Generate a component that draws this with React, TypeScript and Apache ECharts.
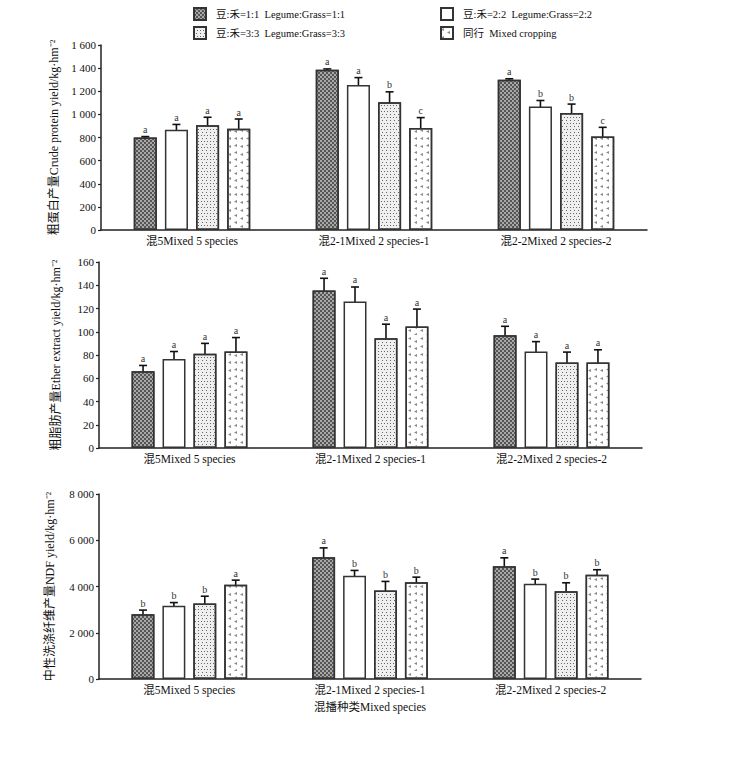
import React, { useEffect, useRef } from "react";
import * as echarts from "echarts";

const categories = ["混5Mixed 5 species", "混2-1Mixed 2 species-1", "混2-2Mixed 2 species-2"];
const seriesNames = [
  "豆:禾=1:1  Legume:Grass=1:1",
  "豆:禾=2:2  Legume:Grass=2:2",
  "豆:禾=3:3  Legume:Grass=3:3",
  "同行  Mixed cropping",
];

// Crude protein yield
const cpValues = [
  [800, 1385, 1300],
  [868, 1255, 1068],
  [905, 1105, 1012],
  [875, 882, 808],
];
const cpErrors = [
  [8, 8, 8],
  [45, 63, 52],
  [70, 90, 77],
  [85, 90, 80],
];
const cpLetters = [
  ["a", "a", "a"],
  ["a", "a", "b"],
  ["a", "b", "b"],
  ["a", "c", "c"],
];

// Ether extract yield
const eeValues = [
  [66, 135.5, 97],
  [76.5, 126, 83],
  [81, 94.5, 73.5],
  [83, 104.5, 73.5],
];
const eeErrors = [
  [5, 10.5, 7.7],
  [6.5, 12.5, 8.5],
  [9, 12, 9],
  [12, 15, 11],
];
const eeLetters = [
  ["a", "a", "a"],
  ["a", "a", "a"],
  ["a", "a", "a"],
  ["a", "a", "a"],
];

// NDF yield
const ndfValues = [
  [2800, 5270, 4880],
  [3170, 4470, 4120],
  [3270, 3830, 3790],
  [4080, 4180, 4510],
];
const ndfErrors = [
  [180, 400, 360],
  [135, 225, 200],
  [310, 390, 370],
  [195, 225, 215],
];
const ndfLetters = [
  ["b", "a", "a"],
  ["b", "b", "b"],
  ["b", "b", "b"],
  ["a", "b", "b"],
];

const yNames = [
  "粗蛋白产量Crude protein yield/kg·hm⁻²",
  "粗脂肪产量Ether extract yield/kg·hm⁻²",
  "中性洗涤纤维产量NDF yield/kg·hm⁻²",
];
const yMax = [1600, 160, 8000];
const yInterval = [200, 20, 2000];
const xAxisTitle = "混播种类Mixed species";

const FONT = "'Liberation Serif', 'Times New Roman', 'Noto Sans CJK SC', serif";
const CAT_GAP = 0.36;
const BAR_GAP = 0.35;

const barStyles: any[] = [
  {
    color: "#a8a8a8",
    borderColor: "#333",
    borderWidth: 1.5,
    decal: {
      symbol: "rect",
      symbolSize: 1,
      color: "#555",
      dashArrayX: [[1.5, 1.5], [0, 1.5, 1.5, 0]],
      dashArrayY: [1.5, 0],
    },
  },
  { color: "#ffffff", borderColor: "#333", borderWidth: 1.5 },
  {
    color: "#efefef",
    borderColor: "#333",
    borderWidth: 1.5,
    decal: {
      symbol: "rect",
      symbolSize: 1,
      color: "#666",
      dashArrayX: [[1, 2], [0, 1.5, 1, 0.5]],
      dashArrayY: [1, 1.5],
    },
  },
  {
    color: "#ffffff",
    borderColor: "#333",
    borderWidth: 1.5,
    decal: {
      symbol: "triangle",
      symbolSize: 1,
      color: "#8a8a8a",
      dashArrayX: [[3, 4], [0, 3.5, 3, 0.5]],
      dashArrayY: [3, 3],
      rotation: -Math.PI / 2,
    },
  },
];

const fmt = (v: number) => String(v).replace(/\B(?=(\d{3})+(?!\d))/g, " ");

export default function App() {
  const ref = useRef<HTMLDivElement>(null);
  useEffect(() => {
    if (!ref.current) return;
    const chart = echarts.init(ref.current, null, { renderer: "svg" });
    const grids = [
      { left: 101, right: 90, top: 45, height: 185 },
      { left: 99, right: 95, top: 262, height: 186 },
      { left: 99, right: 96, top: 494, height: 185 },
    ];
    const nameGaps = [40, 37, 43];
    const panels = [
      { values: cpValues, errors: cpErrors, letters: cpLetters },
      { values: eeValues, errors: eeErrors, letters: eeLetters },
      { values: ndfValues, errors: ndfErrors, letters: ndfLetters },
    ];
    const series: any[] = [];
    panels.forEach((p, gi) => {
      p.values.forEach((vals, si) => {
        series.push({
          type: "bar",
          name: seriesNames[si],
          xAxisIndex: gi,
          yAxisIndex: gi,
          data: vals,
          barGap: BAR_GAP * 100 + "%",
          barCategoryGap: CAT_GAP * 100 + "%",
          itemStyle: barStyles[si],
        });
      });
      const errData: any[] = [];
      const letterList: string[] = [];
      p.values.forEach((vals, si) => {
        vals.forEach((v, ci) => {
          errData.push([ci, si, v, p.errors[si][ci]]);
          letterList.push(p.letters[si][ci]);
        });
      });
      series.push({
        type: "custom",
        xAxisIndex: gi,
        yAxisIndex: gi,
        encode: { x: 0, y: 2 },
        clip: false,
        silent: true,
        data: errData,
        renderItem: (params: any, api: any) => {
          const ci = api.value(0);
          const si = api.value(1);
          const v = api.value(2);
          const e = api.value(3);
          const band = api.size([1, 0])[0];
          const barW = (band * (1 - CAT_GAP)) / (4 + 3 * BAR_GAP);
          const groupW = 4 * barW + 3 * barW * BAR_GAP;
          const center = api.coord([ci, 0])[0];
          const x = center - groupW / 2 + si * barW * (1 + BAR_GAP) + barW / 2;
          const yTop = api.coord([ci, v + e])[1];
          const yBot = api.coord([ci, v - e])[1];
          const cap = 4;
          const ls = { stroke: "#111", lineWidth: 1.6 };
          return {
            type: "group",
            children: [
              { type: "line", shape: { x1: x, y1: yTop, x2: x, y2: yBot }, style: ls },
              { type: "line", shape: { x1: x - cap, y1: yTop, x2: x + cap, y2: yTop }, style: ls },
              { type: "line", shape: { x1: x - cap, y1: yBot, x2: x + cap, y2: yBot }, style: ls },
              {
                type: "text",
                style: {
                  text: letterList[params.dataIndex],
                  x: x,
                  y: yTop - 2,
                  align: "center",
                  verticalAlign: "bottom",
                  fontSize: 10,
                  fontFamily: FONT,
                  fill: "#333",
                },
              },
            ],
          };
        },
      });
    });

    const legendPos = [
      { left: 188, top: 2 },
      { left: 435, top: 2 },
      { left: 188, top: 21 },
      { left: 435, top: 21 },
    ];

    chart.setOption({
      animation: false,
      legend: seriesNames.map((n, i) => ({
        data: [n],
        left: legendPos[i].left,
        top: legendPos[i].top,
        itemWidth: 12,
        itemHeight: 12,
        icon: "rect",
        selectedMode: false,
        textStyle: { fontFamily: FONT, fontSize: 10.5, color: "#111", padding: [0, 0, 0, 5] },
      })),
      grid: grids,
      xAxis: grids.map((_, gi) => ({
        type: "category",
        gridIndex: gi,
        data: categories,
        axisLine: { lineStyle: { color: "#222", width: 1.5 } },
        axisTick: { inside: true, length: 4, lineStyle: { color: "#222", width: 1.5 } },
        axisLabel: { fontFamily: FONT, fontSize: 11.5, color: "#111", margin: 5 },
        name: gi === 2 ? xAxisTitle : "",
        nameLocation: "middle",
        nameGap: 22,
        nameTextStyle: { fontFamily: FONT, fontSize: 11.5, color: "#111" },
      })),
      yAxis: grids.map((_, gi) => ({
        type: "value",
        gridIndex: gi,
        min: 0,
        max: yMax[gi],
        interval: yInterval[gi],
        splitLine: { show: false },
        axisLine: { show: true, lineStyle: { color: "#222", width: 1.5 } },
        axisTick: { show: true, length: 3, lineStyle: { color: "#222", width: 1.2 } },
        axisLabel: {
          fontFamily: FONT,
          fontSize: 11,
          color: "#111",
          margin: 5,
          formatter: (v: number) => fmt(v),
        },
        name: yNames[gi],
        nameLocation: "middle",
        nameGap: nameGaps[gi],
        nameTextStyle: { fontFamily: FONT, fontSize: 12, color: "#111" },
      })),
      series,
    });
    return () => chart.dispose();
  }, []);
  return (
    <div
      ref={ref}
      style={{ position: "absolute", left: 0, top: 0, width: 737, height: 770, background: "#fff" }}
    />
  );
}
